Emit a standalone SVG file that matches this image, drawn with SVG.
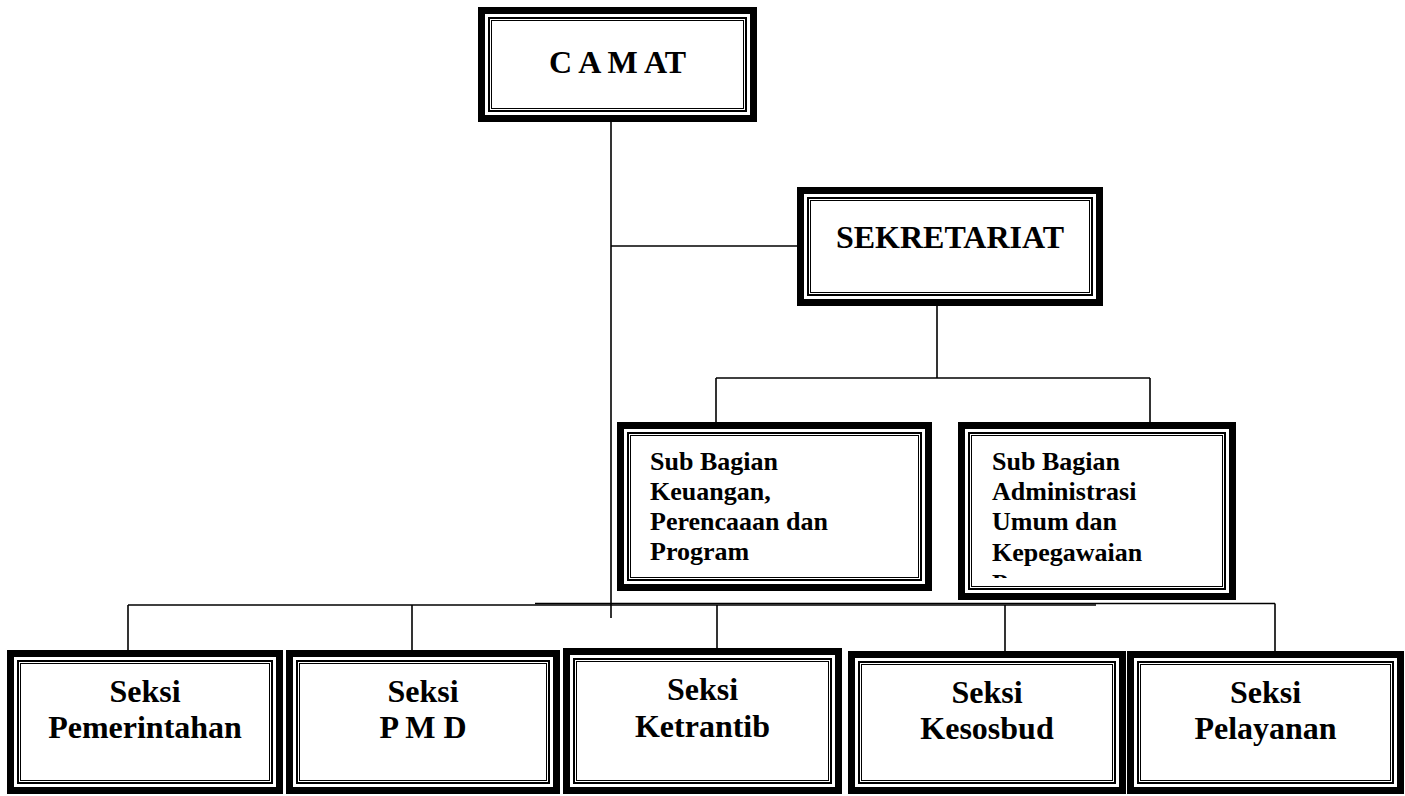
<svg xmlns="http://www.w3.org/2000/svg" width="1405" height="796" viewBox="0 0 1405 796">
<style>
.o{fill:#fff;stroke:#000;stroke-width:7}
.m{fill:none;stroke:#000;stroke-width:2}
.i{fill:none;stroke:#000;stroke-width:1}
.c{stroke:#000;stroke-width:1.6;fill:none}
.t{font-family:"Liberation Serif","Times New Roman",serif;font-weight:bold;fill:#000}
.big{font-size:32px;text-anchor:middle}
.sm{font-size:26px}
</style>
<defs>
<clipPath id="clipSB2"><rect x="972" y="436" width="250" height="142"/></clipPath>
</defs>
<rect width="1405" height="796" fill="#fff"/>
<g id="connectors">
<line class="c" x1="611" y1="122" x2="611" y2="618"/>
<line class="c" x1="611" y1="246" x2="797" y2="246"/>
<line class="c" x1="937" y1="306" x2="937" y2="378"/>
<line class="c" x1="716" y1="378" x2="1150" y2="378"/>
<line class="c" x1="716" y1="378" x2="716" y2="422"/>
<line class="c" x1="1150" y1="378" x2="1150" y2="422"/>
<line class="c" x1="128" y1="605" x2="1096" y2="605"/>
<line class="c" x1="535" y1="603.5" x2="1275" y2="603.5"/>
<line class="c" x1="128" y1="605" x2="128" y2="650"/>
<line class="c" x1="412" y1="605" x2="412" y2="650"/>
<line class="c" x1="717" y1="605" x2="717" y2="648"/>
<line class="c" x1="1005" y1="605" x2="1005" y2="651"/>
<line class="c" x1="1275" y1="603.5" x2="1275" y2="651"/>
</g>
<g id="camat">
<rect class="o" x="481.5" y="10.5" width="272" height="108"/>
<rect class="m" x="489" y="18" width="257" height="93"/>
<rect class="i" x="491.5" y="20.5" width="252" height="88"/>
<text class="t big" x="617.5" y="73">C A M AT</text>
</g>
<g id="sekretariat">
<rect class="o" x="800.5" y="190.5" width="299" height="112"/>
<rect class="m" x="808" y="198" width="284" height="97"/>
<rect class="i" x="810.5" y="200.5" width="279" height="92"/>
<text class="t big" x="950" y="248">SEKRETARIAT</text>
</g>
<g id="subbagian-keuangan">
<rect class="o" x="620.5" y="425.5" width="308" height="162"/>
<rect class="m" x="628" y="433" width="293" height="147"/>
<rect class="i" x="630.5" y="435.5" width="288" height="142"/>
<text class="t sm" x="650"><tspan x="650" y="470">Sub Bagian</tspan><tspan x="650" y="500">Keuangan,</tspan><tspan x="650" y="530">Perencaaan dan</tspan><tspan x="650" y="560">Program</tspan></text>
</g>
<g id="subbagian-umum">
<rect class="o" x="961.5" y="425.5" width="271" height="171"/>
<rect class="m" x="969" y="433" width="256" height="156"/>
<rect class="i" x="971.5" y="435.5" width="251" height="151"/>
<text class="t sm" x="992" clip-path="url(#clipSB2)"><tspan x="992" y="470">Sub Bagian</tspan><tspan x="992" y="500">Administrasi</tspan><tspan x="992" y="530">Umum dan</tspan><tspan x="992" y="561">Kepegawaian</tspan><tspan x="992" y="592">P</tspan></text>
</g>
<g id="seksi-pemerintahan">
<rect class="o" x="10.5" y="653.5" width="269" height="137"/>
<rect class="m" x="18" y="661" width="254" height="122"/>
<rect class="i" x="20.5" y="663.5" width="249" height="117"/>
<text class="t big"><tspan x="145" y="702">Seksi</tspan><tspan x="145" y="738">Pemerintahan</tspan></text>
</g>
<g id="seksi-pmd">
<rect class="o" x="289.5" y="653.5" width="267" height="137"/>
<rect class="m" x="297" y="661" width="252" height="122"/>
<rect class="i" x="299.5" y="663.5" width="247" height="117"/>
<text class="t big"><tspan x="423" y="702">Seksi</tspan><tspan x="423" y="738">P M D</tspan></text>
</g>
<g id="seksi-ketrantib">
<rect class="o" x="566.5" y="651.5" width="272" height="139"/>
<rect class="m" x="574" y="659" width="257" height="124"/>
<rect class="i" x="576.5" y="661.5" width="252" height="119"/>
<text class="t big"><tspan x="702.5" y="700">Seksi</tspan><tspan x="702.5" y="737">Ketrantib</tspan></text>
</g>
<g id="seksi-kesosbud">
<rect class="o" x="851.5" y="654.5" width="271" height="136"/>
<rect class="m" x="859" y="662" width="256" height="121"/>
<rect class="i" x="861.5" y="664.5" width="251" height="116"/>
<text class="t big"><tspan x="987" y="703">Seksi</tspan><tspan x="987" y="739">Kesosbud</tspan></text>
</g>
<g id="seksi-pelayanan">
<rect class="o" x="1130.5" y="654.5" width="270" height="136"/>
<rect class="m" x="1138" y="662" width="255" height="121"/>
<rect class="i" x="1140.5" y="664.5" width="250" height="116"/>
<text class="t big"><tspan x="1265.5" y="703">Seksi</tspan><tspan x="1265.5" y="739">Pelayanan</tspan></text>
</g>
</svg>
